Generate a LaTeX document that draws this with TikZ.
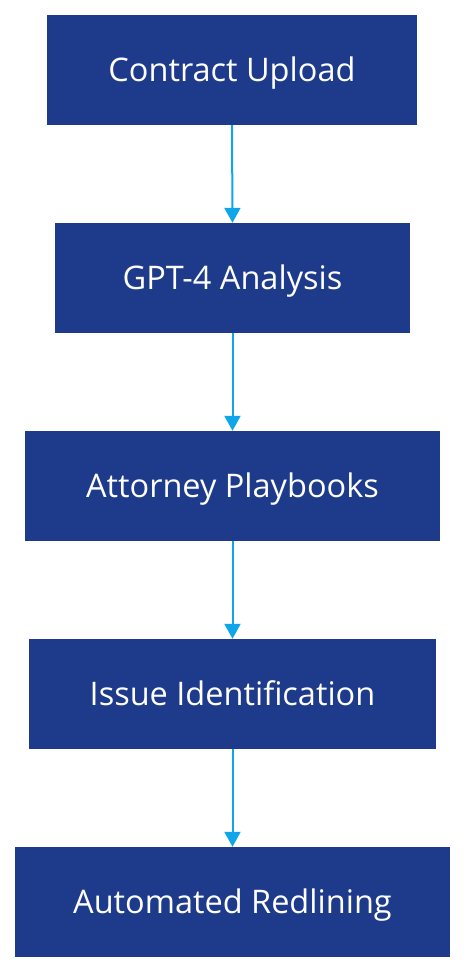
\documentclass[tikz,border=0pt]{standalone}
\usepackage{fontspec}
\setmainfont{Open Sans}
\usetikzlibrary{arrows.meta}
\definecolor{boxblue}{HTML}{1E3A8A}
\definecolor{arrowblue}{HTML}{0EA5E9}
\begin{document}
\begin{tikzpicture}[x=1pt,y=-1pt,
  stepbox/.style={fill=boxblue,draw=none,text=white,font=\fontsize{32.5}{38}\selectfont,inner sep=0pt,anchor=center,text height=23pt,text depth=0pt},
  flow/.style={draw=arrowblue,line width=2pt,-{Triangle[width=16pt,length=15pt]}}]
\useasboundingbox (0,0) rectangle (464,972);
\node[stepbox,minimum width=370pt,minimum height=110pt] (a) at (232,70) {Contract Upload};
\node[stepbox,minimum width=355pt,minimum height=110pt] (b) at (232.5,278) {GPT-4 Analysis};
\node[stepbox,minimum width=415pt,minimum height=110pt] (c) at (232.5,486) {Attorney Playbooks};
\node[stepbox,minimum width=407pt,minimum height=110pt] (d) at (232.5,694) {Issue Identification};
\node[stepbox,minimum width=435pt,minimum height=110pt] (e) at (232.5,902) {Automated Redlining};
\draw[flow] (a.south) -- (b.north);
\draw[flow] (b.south) -- (c.north);
\draw[flow] (c.south) -- (d.north);
\draw[flow] (d.south) -- (e.north);
\end{tikzpicture}
\end{document}
